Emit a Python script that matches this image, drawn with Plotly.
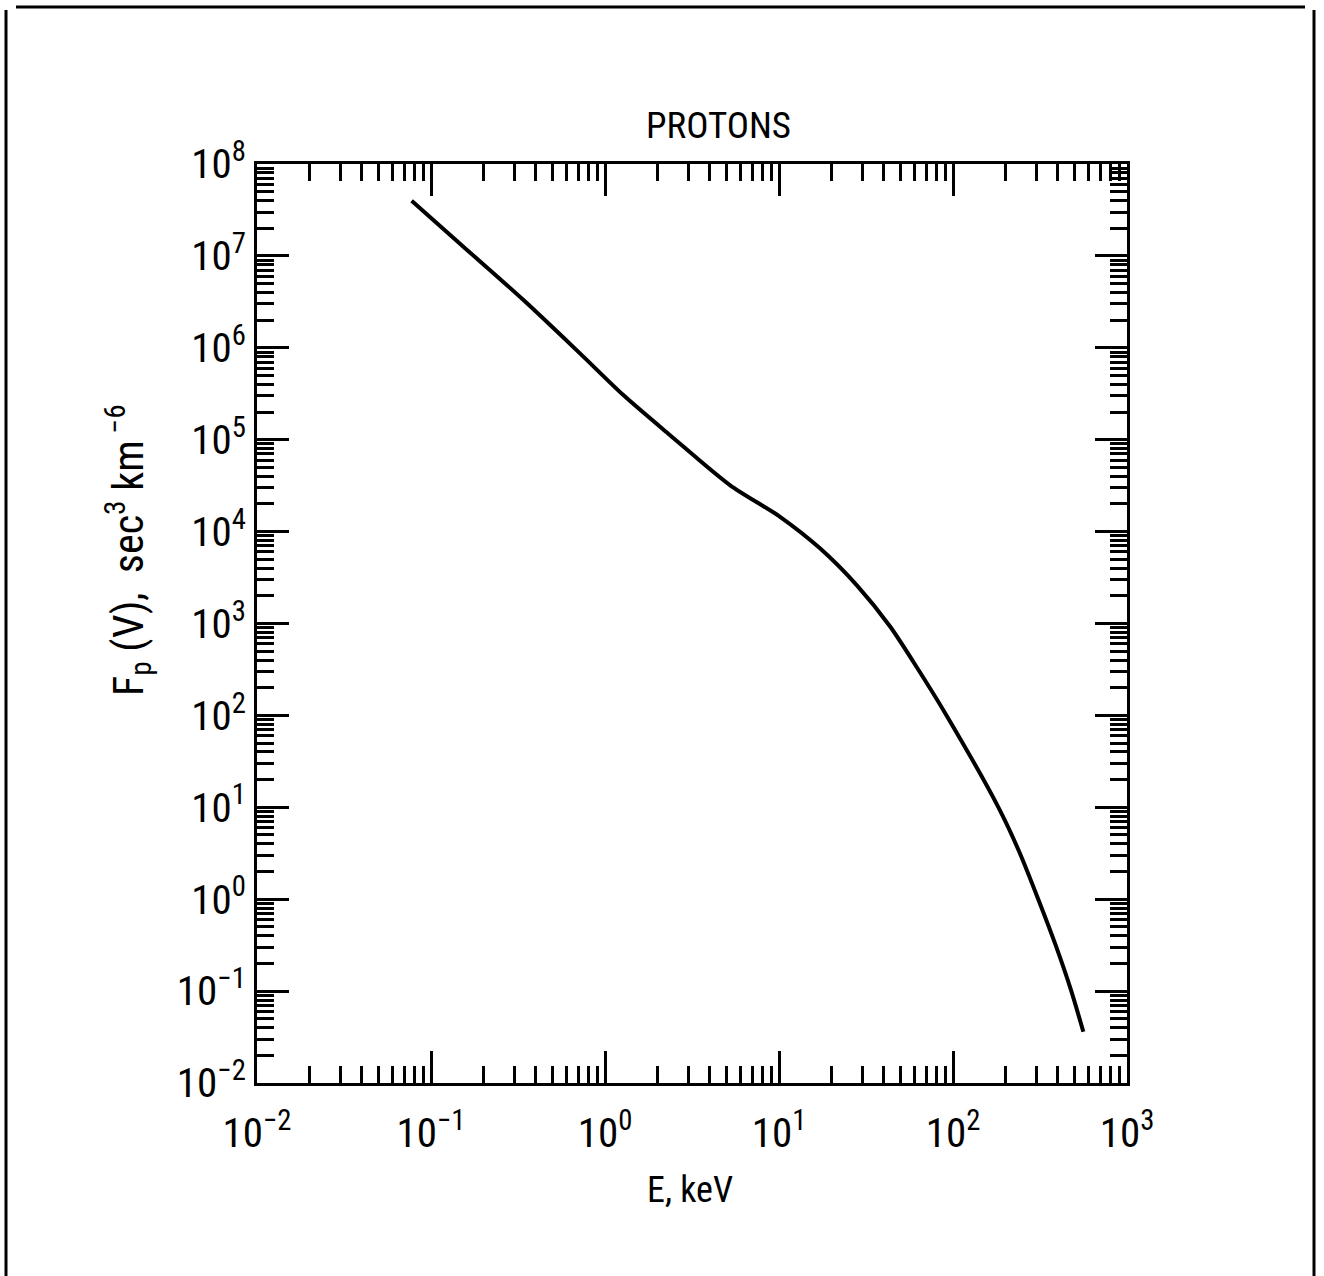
import plotly.graph_objects as go

# ---- data (E in keV, F_p in sec^3 km^-6) ----
energy_kev = [0.0774, 0.1535, 0.340, 0.718, 1.274, 2.366, 5.22, 10.14, 17.2,
              28.2, 43.4, 63.1, 91.8, 182.4, 239.9, 309.0, 389.0, 478.6, 561.0]
flux = [3.99e7, 1.26e7, 3.31e6, 8.7e5, 3.06e5, 1.12e5, 3.21e4, 1.45e4, 6.58e3,
        2570.0, 933.0, 316.0, 100.0, 10.0, 3.31, 1.0, 0.316, 0.1, 0.0361]

x_tick_vals = [1e-2, 1e-1, 1e0, 1e1, 1e2, 1e3]
x_tick_text = ["10<sup>−2</sup>", "10<sup>−1</sup>", "10<sup>0</sup>",
               "10<sup>1</sup>", "10<sup>2</sup>", "10<sup>3</sup>"]
y_tick_vals = [1e-2, 1e-1, 1e0, 1e1, 1e2, 1e3, 1e4, 1e5, 1e6, 1e7, 1e8]
y_tick_text = ["10<sup>−2</sup>", "10<sup>−1</sup>", "10<sup>0</sup>", "10<sup>1</sup>",
               "10<sup>2</sup>", "10<sup>3</sup>", "10<sup>4</sup>", "10<sup>5</sup>",
               "10<sup>6</sup>", "10<sup>7</sup>", "10<sup>8</sup>"]

title_text = "PROTONS"
x_title = "E, keV"
y_title = "F<sub>p</sub> (V),  sec<sup>3</sup> km<sup> −6</sup>"

# ---- layout geometry (pixels) ----
W, H = 1324, 1276
L, R, T, B = 257, 1127, 164, 1083  # plot area edges


def px(x):
    return (x - L) / (R - L)


def py(y):
    return (B - y) / (B - T)


FONT = "Liberation Sans Narrow, Arial Narrow, Roboto Condensed, DejaVu Sans Condensed, Liberation Sans, Arial, sans-serif"

x_minor = [m * 10.0 ** k for k in range(-2, 3) for m in range(2, 10)]
y_minor = [m * 10.0 ** k for k in range(-2, 8) for m in range(2, 10)]

fig = go.Figure()
fig.add_trace(go.Scatter(
    x=energy_kev, y=flux, mode="lines",
    line=dict(color="black", width=4, shape="spline", smoothing=0.8),
    showlegend=False, hoverinfo="skip",
))

axis_common = dict(
    type="log", showgrid=False, zeroline=False,
    showline=True, linecolor="black", linewidth=3, mirror="ticks",
    ticks="inside", ticklen=32, tickwidth=3, tickcolor="black",
    tickmode="array",
    tickfont=dict(family=FONT, size=41, color="black"),
)

fig.update_xaxes(
    **axis_common, range=[-2, 3],
    tickvals=x_tick_vals, ticktext=x_tick_text,
    ticklabelstandoff=12,
    minor=dict(tickmode="array", tickvals=x_minor, ticks="inside",
               ticklen=17, tickwidth=2.5, tickcolor="black", showgrid=False),
)
fig.update_yaxes(
    **axis_common, range=[-2, 8],
    tickvals=y_tick_vals, ticktext=y_tick_text,
    ticklabelstandoff=0,
    minor=dict(tickmode="array", tickvals=y_minor, ticks="inside",
               ticklen=17, tickwidth=2.5, tickcolor="black", showgrid=False),
)

annotations = [
    dict(text=title_text, x=px(718), y=py(125), xref="paper", yref="paper",
         xanchor="center", yanchor="middle", showarrow=False,
         font=dict(family=FONT, size=37, color="black")),
    dict(text=x_title, x=px(690), y=py(1190), xref="paper", yref="paper",
         xanchor="center", yanchor="middle", showarrow=False,
         font=dict(family=FONT, size=36, color="black")),
    dict(text=y_title, x=px(128), y=py(550), xref="paper", yref="paper",
         xanchor="center", yanchor="middle", showarrow=False, textangle=-90,
         font=dict(family=FONT, size=42, color="black")),
]

# page frame of the scanned figure
frame = dict(type="line", xref="paper", yref="paper", line=dict(color="black", width=3))
shapes = [
    dict(frame, x0=px(6), x1=px(6), y0=py(10), y1=py(1276)),
    dict(frame, x0=px(16), x1=px(1305), y0=py(7), y1=py(7)),
    dict(frame, x0=px(1314), x1=px(1314), y0=py(10), y1=py(1276)),
]

fig.update_layout(
    width=W, height=H,
    margin=dict(l=L, r=W - R, t=T, b=H - B, pad=0),
    paper_bgcolor="white", plot_bgcolor="white",
    annotations=annotations, shapes=shapes,
    font=dict(family=FONT, color="black"),
)

fig.write_html("out.html")
